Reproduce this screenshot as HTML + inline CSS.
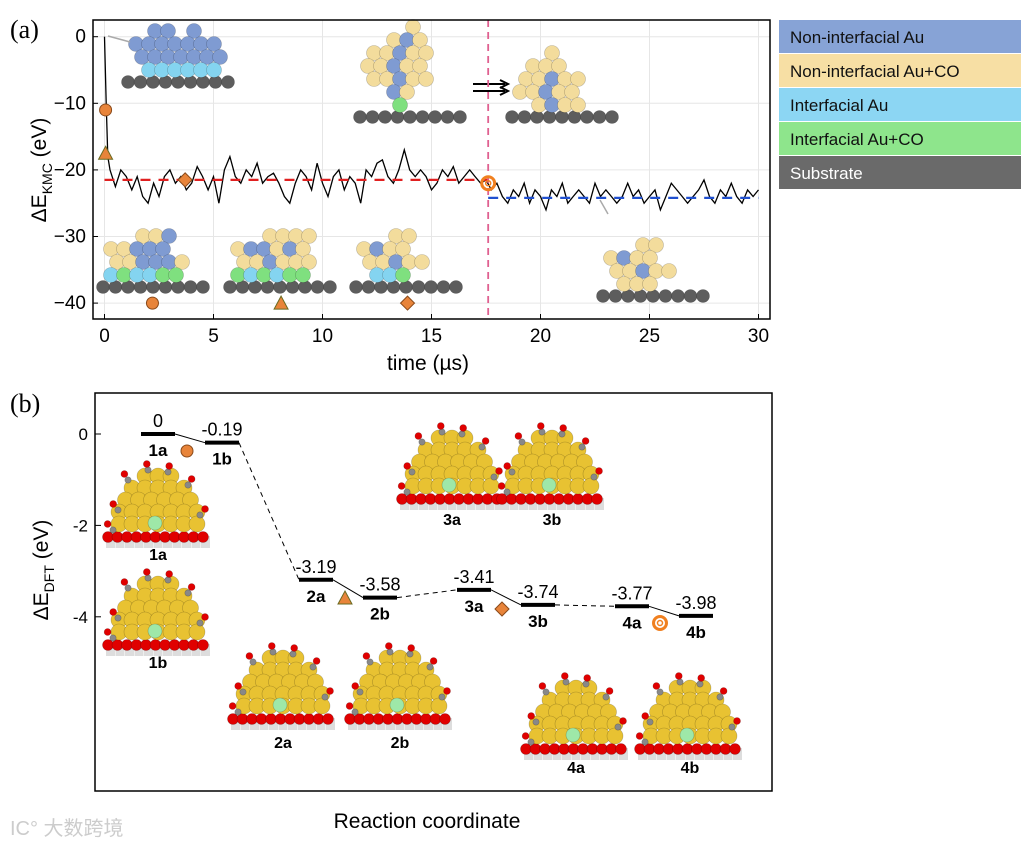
<!DOCTYPE html>
<html><head><meta charset="utf-8"><style>
body{margin:0;background:#fff;}
svg{display:block;font-family:"Liberation Sans",Arial,sans-serif;}
</style></head><body>
<svg id="fig" width="1025" height="845" viewBox="0 0 1025 845" xmlns="http://www.w3.org/2000/svg">
<text x="10" y="38" font-family="Liberation Serif,serif" font-size="26">(a)</text>
<text x="10" y="412" font-family="Liberation Serif,serif" font-size="26">(b)</text>
<g id="legend"></g>
<g id="pa"></g>
<g id="pb"></g>
<text x="10" y="835" font-size="20" fill="#ccc" font-family="Liberation Sans,'Noto Sans CJK SC',sans-serif">IC° 大数跨境</text>
</svg>
<script>
// ---- data ----
const xTicksA = [0,5,10,15,20,25,30];
const yTicksA = [0,-10,-20,-30,-40];
const initT = [0,0.08,0.15];
const initE = [0,-10,-18];
const seg1E = [-20,-22.5,-20,-21,-23,-21,-24,-25,-22,-24,-21,-20,-22,-21,-23,-22,-19.5,-21,-23,-21,-25,-20,-18,-21,-22,-20,-21,-19,-22,-21,-20.5,-22,-24,-25,-22,-20,-21,-23,-19,-22,-24,-21,-20,-23,-21,-22,-25,-20,-21,-19,-18.5,-21,-22,-20,-17,-20,-21,-20,-21,-23,-22,-20,-21,-19.5,-22,-21,-20,-21,-22,-21.5];
const seg2E = [-23,-22,-24,-25,-23,-24,-22,-25,-23,-24,-26,-23,-24,-22,-25,-24,-23,-24,-25,-22,-24,-23,-24,-25,-24,-22,-24,-23,-25,-24,-23,-26,-24,-22,-23,-24,-25,-24,-23,-21.5,-24,-25,-23,-24,-22,-24,-25,-23,-24,-23];
const avg1 = -21.5, avg2 = -24.2, tSwitch = 17.6;
const markersA = [["circle",0.05,-11],["triangle",0.05,-17.5],["diamond",3.7,-21.5],["ring",17.6,-22],["circle",2.2,-40],["triangle",8.1,-40],["diamond",13.9,-40]];
const levelNames = ["1a","1b","2a","2b","3a","3b","4a","4b"];
const levelE = [0,-0.19,-3.19,-3.58,-3.41,-3.74,-3.77,-3.98];
const levelLabels = ["0","-0.19","-3.19","-3.58","-3.41","-3.74","-3.77","-3.98"];
const yTicksB = [0,-2,-4];
const legendNames = ["Non-interfacial Au","Non-interfacial Au+CO","Interfacial Au","Interfacial Au+CO","Substrate"];
const legendColors = ["#87a3d6","#f7dfa4","#8cd6f3","#8ee58c","#6a6a6a"];

const NS="http://www.w3.org/2000/svg";
function el(p,t,a){const e=document.createElementNS(NS,t);for(const k in a)e.setAttribute(k,a[k]);p.appendChild(e);return e;}

// legend
const lg=document.getElementById('legend');
legendNames.forEach((n,i)=>{
  const r=el(lg,'rect',{x:779,y:20+i*34,width:242,height:33,fill:legendColors[i]});
  
  
  const t=el(lg,'text',{x:790,y:43+i*34,'font-size':17,fill:i==4?'#fff':'#111'});t.textContent=n;
  
  
});

// panel a
const A=document.getElementById('pa');
const ax=t=>104.5+t*21.8, ay=v=>36.7-v*6.66;
xTicksA.forEach(t=>{el(A,'line',{x1:ax(t),x2:ax(t),y1:20,y2:319,stroke:'#e6e6e6'});});
yTicksA.forEach(v=>{el(A,'line',{x1:93,x2:770,y1:ay(v),y2:ay(v),stroke:'#e6e6e6'});});
function sphere(g,x,y,r,c){el(g,'circle',{cx:x,cy:y,r:r,fill:c,stroke:'rgba(0,0,0,0.25)','stroke-width':0.6});}
const cmap={b:'#7f9bd2',y:'#f3dc9c',c:'#84d4f0',g:'#7fe07f'};
function cluster(g,x0,sy,rows,n){
  for(let i=0;i<n;i++)sphere(g,x0+i*12.5,sy,6.5,'#5d5d5d');
  rows.forEach((row,ri)=>{const yy=sy-12-(rows.length-1-ri)*13;
    for(let j=0;j<row.length;j++){const ch=row[j];if(ch=='.')continue;sphere(g,x0+8+j*13+(ri%2?0:6),yy,7.5,cmap[ch]);}});
}
const cg=el(A,'g',{});
cluster(cg,128,82,[".bb.b..","bbbbbbb","bbbbbbb",".cccccc"],9);
cluster(cg,360,117,["...y..","..yby.","yybyy.","yybyy.","yybyy.","..by..","..g..."],9);
cluster(cg,512,117,["..y...",".yyy..","yybyy.","yybyy.",".ybyy."],9);
cluster(cg,103,287,["..yyb...","yybbb...","yybbby..","cgccgg.."],9);
cluster(cg,230,287,["..yyyy..","ybbyby..","yybyyy..","gcgcgg.."],9);
cluster(cg,356,287,["..yy....","ybyy....","yybyy...",".ccg...."],9);
cluster(cg,603,296,["..yy....","ybyy....","yybyy...",".yyy...."],9);
el(A,'path',{d:'M473 84 H505 M473 91 H505',stroke:'#000','stroke-width':2});
el(A,'path',{d:'M500 80 L508 84 L500 88 M500 87 L508 91 L500 95',fill:'none',stroke:'#000','stroke-width':2});
el(A,'path',{d:'M108 36 L130 42',stroke:'#aaa','stroke-width':1.5});
el(A,'path',{d:'M600 200 L608 214',stroke:'#aaa','stroke-width':1.5});
// series
let pts=[];initT.forEach((t,i)=>pts.push([t,initE[i]]));
seg1E.forEach((v,i)=>pts.push([0.25*(i+1),v]));
seg2E.forEach((v,i)=>pts.push([17.75+0.25*i,v]));
const ln=el(A,'polyline',{points:pts.map(p=>ax(p[0]).toFixed(1)+','+ay(p[1]).toFixed(1)).join(' '),fill:'none',stroke:'#000','stroke-width':1.3});

const r1=el(A,'line',{x1:ax(0),x2:ax(tSwitch),y1:ay(avg1),y2:ay(avg1),stroke:'#e02020','stroke-width':2.2,'stroke-dasharray':'10 8'});

const r2=el(A,'line',{x1:ax(tSwitch),x2:ax(30),y1:ay(avg2),y2:ay(avg2),stroke:'#2050d0','stroke-width':2.2,'stroke-dasharray':'10 8'});

const vl=el(A,'line',{x1:ax(tSwitch),x2:ax(tSwitch),y1:20,y2:319,stroke:'#e06090','stroke-width':1.8,'stroke-dasharray':'7 5'});

function marker(g,type,x,y){const o='#e8843a',s='#8a4a1a';let m;
 if(type=='circle')m=el(g,'circle',{cx:x,cy:y,r:6,fill:o,stroke:s});
 else if(type=='triangle')m=el(g,'path',{d:`M${x} ${y-7}L${x+7} ${y+6}L${x-7} ${y+6}Z`,fill:o,stroke:'#6a6a20'});
 else if(type=='diamond')m=el(g,'path',{d:`M${x} ${y-7}L${x+7} ${y}L${x} ${y+7}L${x-7} ${y}Z`,fill:o,stroke:s});
 else {m=el(g,'circle',{cx:x,cy:y,r:6.5,fill:'none',stroke:'#f08020','stroke-width':3});el(g,'circle',{cx:x,cy:y,r:2.5,fill:'none',stroke:'#f08020','stroke-width':1.5});}
 return m;}
markersA.forEach(m=>{const e=marker(A,m[0],ax(m[1]),ay(m[2]));
 });
el(A,'rect',{x:93,y:20,width:677,height:299,fill:'none',stroke:'#000','stroke-width':1.5});
xTicksA.forEach(t=>{el(A,'line',{x1:ax(t),x2:ax(t),y1:319,y2:314,stroke:'#000'});
 const tx=el(A,'text',{x:ax(t),y:342,'font-size':19,'text-anchor':'middle'});tx.textContent=t;
 });
yTicksA.forEach(v=>{el(A,'line',{x1:93,x2:98,y1:ay(v),y2:ay(v),stroke:'#000'});
 const tx=el(A,'text',{x:86,y:ay(v)+6,'font-size':19,'text-anchor':'end'});tx.textContent=v==0?'0':'\u2212'+(-v);
 });
let t1=el(A,'text',{x:428,y:370,'font-size':21,'text-anchor':'middle'});t1.textContent='time (\u00b5s)';

let t2=el(A,'text',{transform:'translate(46,170) rotate(-90)','font-size':21,'text-anchor':'middle'});
t2.innerHTML='\u0394E<tspan font-size="14" dy="6">KMC</tspan><tspan dy="-6"> (eV)</tspan>';


// panel b
const B=document.getElementById('pb');
const by=v=>434-v*45.7;
const cx=i=>158+Math.floor(i/2)*158+(i%2)*64;
function molecule(g,x,sy){
 for(let i=0;i<11;i++){el(g,'rect',{x:x-52+i*9.5,y:sy-4,width:9,height:12,fill:'#ddd'});sphere(g,x-50+i*9.5,sy-3,5.5,'#e00000');}
 const rows=[3,5,6,7,7];rows.forEach((n,ri)=>{for(let j=0;j<n;j++)sphere(g,x-(n-1)*6.5+j*13,sy-16-(rows.length-1-ri)*12,8,'#e8c232');});
 sphere(g,x-3,sy-17,7,'#9ee8a8');
 [[-40,-30],[-30,-60],[-10,-70],[10,-68],[30,-55],[42,-25],[-45,-10]].forEach(d=>{sphere(g,x+d[0],sy+d[1],3.2,'#888');sphere(g,x+d[0]*1.12,sy+d[1]-6,3.5,'#e00000');});
}
const mg=el(B,'g',{});
[[158,540,"1a",560],[158,648,"1b",668],[283,722,"2a",748],[400,722,"2b",748],[452,502,"3a",525],[552,502,"3b",525],[576,752,"4a",773],[690,752,"4b",773]].forEach(m=>{
 molecule(mg,m[0],m[1]);const t=el(mg,'text',{x:m[0],y:m[3],'font-size':16,'font-weight':'bold','text-anchor':'middle'});t.textContent=m[2];});
for(let i=0;i<7;i++){const dashed=i%2==1;
 const c=el(B,'line',{x1:cx(i)+17,y1:by(levelE[i]),x2:cx(i+1)-17,y2:by(levelE[i+1]),stroke:'#000','stroke-width':1,'stroke-dasharray':dashed?'5 4':'none'});
 }
levelE.forEach((v,i)=>{const l=el(B,'line',{x1:cx(i)-17,x2:cx(i)+17,y1:by(v),y2:by(v),stroke:'#000','stroke-width':4});
 
 const t=el(B,'text',{x:cx(i),y:by(v)-7,'font-size':18,'text-anchor':'middle'});t.textContent=levelLabels[i];
 
 const n=el(B,'text',{x:cx(i),y:by(v)+22,'font-size':17,'font-weight':'bold','text-anchor':'middle'});n.textContent=levelNames[i];
 });
[["circle",187,451],["triangle",345,598],["diamond",502,609],["ring",660,623]].forEach(m=>{const e=marker(B,m[0],m[1],m[2]);
 });
el(B,'rect',{x:95,y:393,width:677,height:398,fill:'none',stroke:'#000','stroke-width':1.5});
yTicksB.forEach(v=>{el(B,'line',{x1:95,x2:101,y1:by(v),y2:by(v),stroke:'#000'});
 const tx=el(B,'text',{x:88,y:by(v)+6,'font-size':17,'text-anchor':'end'});tx.textContent=v==0?'0':String(v);
 });
let t3=el(B,'text',{x:427,y:828,'font-size':21,'text-anchor':'middle'});t3.textContent='Reaction coordinate';

let t4=el(B,'text',{transform:'translate(48,570) rotate(-90)','font-size':21,'text-anchor':'middle'});
t4.innerHTML='\u0394E<tspan font-size="14" dy="6">DFT</tspan><tspan dy="-6"> (eV)</tspan>';

</script>
</body></html>
